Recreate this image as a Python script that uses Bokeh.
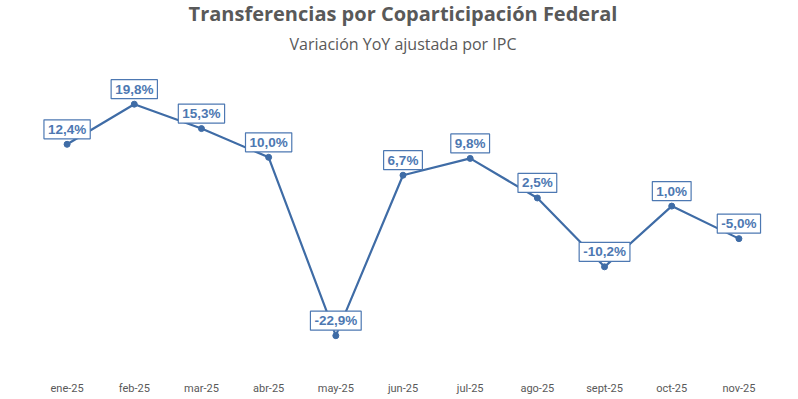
from bokeh.plotting import figure
from bokeh.models import ColumnDataSource, Title, Range1d, FactorRange
from bokeh.core.properties import value
from bokeh.embed import file_html
from bokeh.resources import INLINE

months = ["ene-25", "feb-25", "mar-25", "abr-25", "may-25", "jun-25",
          "jul-25", "ago-25", "sept-25", "oct-25", "nov-25"]
values = [12.4, 19.8, 15.3, 10.0, -22.9, 6.7, 9.8, 2.5, -10.2, 1.0, -5.0]
labels = [f"{v:.1f}%".replace(".", ",") for v in values]

title_text = "Transferencias por Coparticipación Federal"
subtitle_text = "Variación YoY ajustada por IPC"

BLUE = "#3f6ca6"
LABEL_BLUE = "#4d78b2"
GRAY = "#595959"

src = ColumnDataSource(dict(x=months, y=values, lab=labels))

p = figure(width=782, height=397, output_backend="svg", toolbar_location=None,
           x_range=FactorRange(*months, range_padding=0),
           y_range=Range1d(-29.14, 27.49),
           min_border_left=33, min_border_right=10, min_border_bottom=28,
           min_border_top=0)

p.add_layout(Title(text=subtitle_text, align="center", text_font="Open Sans",
                   text_font_size="16px", text_font_style="normal",
                   text_color=GRAY, standoff=15, offset=0), "above")
p.add_layout(Title(text=title_text, align="center", text_font="Open Sans",
                   text_font_size="20px", text_font_style="bold",
                   text_color=GRAY, standoff=-6, offset=0), "above")

p.line("x", "y", source=src, line_color=BLUE, line_width=2.2)
p.scatter("x", "y", source=src, size=6, color=BLUE)

p.text("x", "y", text="lab", source=src, y_offset=-15,
       text_align="center", text_baseline="middle",
       text_font=value("Liberation Sans"), text_font_style="bold",
       text_font_size="13.5px", text_color=LABEL_BLUE,
       background_fill_color="white", border_line_color=LABEL_BLUE,
       border_line_width=1.2, padding=(4, 2))

p.yaxis.visible = False
p.xaxis.axis_line_color = None
p.xaxis.major_tick_line_color = None
p.xaxis.minor_tick_line_color = None
p.xaxis.major_tick_out = 0
p.xaxis.major_tick_in = 0
p.xaxis.major_label_standoff = 12
p.xaxis.major_label_text_font = "Roboto"
p.xaxis.major_label_text_font_size = "11px"
p.xaxis.major_label_text_color = GRAY
p.xgrid.grid_line_color = None
p.ygrid.grid_line_color = None
p.outline_line_color = None

open("out.html", "w").write(file_html(p, INLINE))
